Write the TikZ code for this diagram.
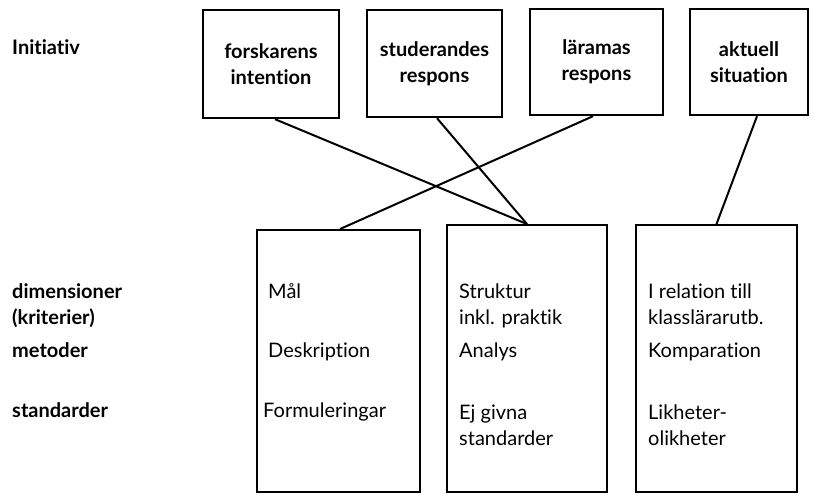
\documentclass[tikz,border=0pt]{standalone}
\usepackage{fontspec}
\setmainfont{Lato}[Ligatures={NoCommon}]
\begin{document}
\begin{tikzpicture}[x=1pt,y=-1pt,
  topbox/.style={draw,line width=2.4pt,minimum width=#1,align=center,
    font=\fontsize{20}{26}\selectfont\bfseries,inner sep=0pt},
  colbox/.style={draw,line width=1.9pt,minimum width=#1},
  rowlabel/.style={anchor=base west,align=left,inner sep=0pt,
    font=\fontsize{20}{26}\selectfont\bfseries},
  celltext/.style={anchor=base west,align=left,inner sep=0pt,
    font=\fontsize{20}{26}\selectfont},
  link/.style={line width=2pt}]
\useasboundingbox (0,0) rectangle (814,494);

% initiative boxes
\node[topbox=136pt,minimum height=108pt] (t1) at (271,64) {forskarens\\intention};
\node[topbox=135pt,minimum height=107pt] (t2) at (434.5,63.5) {studerandes\\respons};
\node[topbox=133pt,minimum height=106pt] (t3) at (596.5,62) {läramas\\respons};
\node[topbox=118pt,minimum height=106pt] (t4) at (749,62) {aktuell\\situation};

% evaluation columns
\node[colbox=163pt,minimum height=262pt] (b1) at (338.5,361) {};
\node[colbox=160pt,minimum height=267pt] (b2) at (527,358.5) {};
\node[colbox=161pt,minimum height=267pt] (b3) at (716.5,358.5) {};

% connections
\draw[link] ([xshift=4pt]t1.south) -- (b2.north);
\draw[link] ([xshift=2.5pt]t2.south) -- (b2.north);
\draw[link] ([xshift=-3.5pt]t3.south) -- ([xshift=1.5pt]b1.north);
\draw[link] ([xshift=8pt]t4.south) -- (b3.north);

% row labels (base anchor = baseline of the last line)
\node[rowlabel] (lInit) at (12,55) {Initiativ};
\node[rowlabel] (lDim) at (12,325) {dimensioner\\(kriterier)};
\node[rowlabel] (lMet) at (12,357) {metoder};
\node[rowlabel] (lStd) at (12,417) {standarder};

% cell texts
\node[celltext] (c11) at (268,299) {Mål};
\node[celltext] (c12) at (268,357) {Deskription};
\node[celltext] (c13) at (263,417) {Formuleringar};
\node[celltext] (c21) at (459,325) {Struktur\\inkl. praktik};
\node[celltext] (c22) at (459,357) {Analys};
\node[celltext] (c23) at (459,445) {Ej givna\\standarder};
\node[celltext] (c31) at (648,325) {I relation till\\klasslärarutb.};
\node[celltext] (c32) at (648,357) {Komparation};
\node[celltext] (c33) at (648,445) {Likheter-\\olikheter};
\end{tikzpicture}
\end{document}
